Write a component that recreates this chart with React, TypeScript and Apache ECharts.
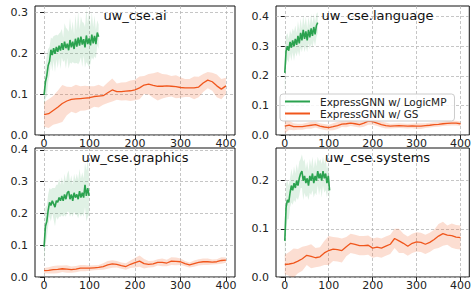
import React, { useEffect, useRef } from 'react';
import * as echarts from 'echarts';

const TITLES = ['uw_cse.ai', 'uw_cse.language', 'uw_cse.graphics', 'uw_cse.systems'];
const LEGEND_NAMES = ['ExpressGNN w/ LogicMP', 'ExpressGNN w/ GS'];
const X_TICKS = [0, 100, 200, 300, 400];
const Y_TICKS = [
  [0, 0.1, 0.2, 0.3],
  [0, 0.1, 0.2, 0.3, 0.4],
  [0, 0.1, 0.2, 0.3, 0.4],
  [0, 0.1, 0.2],
];
const Y_MAX = [0.315, 0.436, 0.406, 0.268];

// epochs between recorded points
const GREEN_EPOCH_STEP = 3;
const ORANGE_EPOCH_STEP = 10;

// ---- ExpressGNN w/ LogicMP (mean, std) ----
const AI_LMP_MEAN = [0.098, 0.13, 0.145, 0.17, 0.18, 0.208, 0.195, 0.212, 0.198, 0.215, 0.203, 0.218, 0.206, 0.224, 0.208, 0.228, 0.212, 0.223, 0.207, 0.232, 0.214, 0.228, 0.21, 0.235, 0.216, 0.238, 0.218, 0.24, 0.221, 0.234, 0.214, 0.243, 0.222, 0.236, 0.219, 0.245, 0.224, 0.242, 0.222, 0.25, 0.24];
const AI_LMP_STD = [0.03, 0.04, 0.05, 0.04, 0.035, 0.03, 0.04, 0.03, 0.045, 0.03, 0.04, 0.03, 0.045, 0.035, 0.03, 0.045, 0.05, 0.035, 0.045, 0.055, 0.04, 0.05, 0.035, 0.06, 0.04, 0.065, 0.04, 0.05, 0.055, 0.04, 0.05, 0.065, 0.05, 0.07, 0.045, 0.055, 0.04, 0.05, 0.035, 0.03, 0.03];

const LANG_LMP_MEAN = [0.21, 0.285, 0.3, 0.285, 0.315, 0.295, 0.32, 0.3, 0.325, 0.305, 0.335, 0.31, 0.345, 0.32, 0.355, 0.325, 0.35, 0.32, 0.355, 0.33, 0.36, 0.335, 0.365, 0.34, 0.37, 0.38];
const LANG_LMP_STD = [0.07, 0.05, 0.045, 0.04, 0.04, 0.045, 0.04, 0.05, 0.045, 0.04, 0.05, 0.045, 0.05, 0.04, 0.05, 0.045, 0.05, 0.04, 0.045, 0.04, 0.05, 0.04, 0.045, 0.04, 0.04, 0.035];

const GRAPH_LMP_MEAN = [0.095, 0.16, 0.175, 0.21, 0.235, 0.225, 0.24, 0.23, 0.22, 0.24, 0.235, 0.25, 0.24, 0.255, 0.24, 0.26, 0.245, 0.265, 0.27, 0.245, 0.26, 0.24, 0.265, 0.25, 0.26, 0.245, 0.27, 0.25, 0.265, 0.25, 0.29, 0.255, 0.28, 0.255];
const GRAPH_LMP_STD = [0.05, 0.06, 0.05, 0.05, 0.045, 0.05, 0.04, 0.05, 0.06, 0.05, 0.055, 0.06, 0.05, 0.06, 0.05, 0.065, 0.055, 0.06, 0.065, 0.055, 0.06, 0.05, 0.06, 0.055, 0.065, 0.06, 0.07, 0.06, 0.065, 0.06, 0.07, 0.08, 0.09, 0.06];

const SYS_LMP_MEAN = [0.075, 0.145, 0.16, 0.155, 0.175, 0.19, 0.18, 0.195, 0.185, 0.2, 0.19, 0.205, 0.215, 0.22, 0.2, 0.21, 0.195, 0.205, 0.19, 0.21, 0.2, 0.215, 0.195, 0.21, 0.2, 0.22, 0.205, 0.215, 0.2, 0.22, 0.205, 0.215, 0.195, 0.21, 0.18];
const SYS_LMP_STD = [0.04, 0.05, 0.04, 0.035, 0.03, 0.035, 0.03, 0.035, 0.03, 0.035, 0.03, 0.035, 0.03, 0.035, 0.04, 0.035, 0.03, 0.035, 0.03, 0.035, 0.03, 0.035, 0.03, 0.035, 0.03, 0.03, 0.035, 0.03, 0.035, 0.03, 0.03, 0.035, 0.03, 0.025, 0.025];

// ---- ExpressGNN w/ GS (mean, std) ----
const AI_GS_MEAN = [0.05, 0.052, 0.06, 0.068, 0.077, 0.083, 0.087, 0.088, 0.089, 0.09, 0.091, 0.094, 0.095, 0.096, 0.103, 0.11, 0.106, 0.106, 0.107, 0.108, 0.11, 0.115, 0.122, 0.124, 0.121, 0.119, 0.119, 0.12, 0.119, 0.118, 0.116, 0.115, 0.115, 0.115, 0.117, 0.127, 0.134, 0.13, 0.12, 0.112, 0.12];
const AI_GS_STD = [0.03, 0.035, 0.035, 0.04, 0.045, 0.035, 0.03, 0.035, 0.03, 0.03, 0.028, 0.025, 0.028, 0.022, 0.025, 0.028, 0.02, 0.022, 0.022, 0.025, 0.025, 0.028, 0.022, 0.025, 0.03, 0.035, 0.03, 0.028, 0.025, 0.028, 0.025, 0.022, 0.022, 0.028, 0.025, 0.022, 0.02, 0.022, 0.028, 0.025, 0.02];

const LANG_GS_MEAN = [0.03, 0.033, 0.028, 0.028, 0.028, 0.031, 0.033, 0.035, 0.03, 0.027, 0.025, 0.028, 0.032, 0.037, 0.038, 0.04, 0.038, 0.035, 0.04, 0.047, 0.045, 0.04, 0.035, 0.032, 0.03, 0.031, 0.032, 0.031, 0.03, 0.031, 0.03, 0.03, 0.032, 0.033, 0.035, 0.036, 0.038, 0.039, 0.04, 0.04, 0.038];
const LANG_GS_STD = [0.025, 0.015, 0.012, 0.01, 0.01, 0.01, 0.012, 0.01, 0.01, 0.01, 0.01, 0.012, 0.012, 0.01, 0.012, 0.01, 0.01, 0.01, 0.012, 0.012, 0.01, 0.01, 0.01, 0.01, 0.008, 0.008, 0.008, 0.008, 0.008, 0.008, 0.01, 0.01, 0.008, 0.008, 0.008, 0.008, 0.008, 0.008, 0.008, 0.008, 0.008];

const GRAPH_GS_MEAN = [0.02, 0.021, 0.023, 0.024, 0.026, 0.025, 0.023, 0.025, 0.028, 0.028, 0.028, 0.029, 0.03, 0.033, 0.038, 0.041, 0.04, 0.036, 0.033, 0.04, 0.045, 0.05, 0.042, 0.04, 0.041, 0.046, 0.046, 0.044, 0.05, 0.049, 0.048, 0.042, 0.038, 0.042, 0.046, 0.048, 0.048, 0.047, 0.048, 0.052, 0.053];
const GRAPH_GS_STD = [0.008, 0.01, 0.012, 0.012, 0.01, 0.012, 0.01, 0.01, 0.01, 0.01, 0.008, 0.008, 0.008, 0.01, 0.012, 0.012, 0.01, 0.01, 0.01, 0.012, 0.015, 0.018, 0.015, 0.01, 0.01, 0.01, 0.012, 0.01, 0.012, 0.012, 0.01, 0.008, 0.008, 0.01, 0.01, 0.01, 0.01, 0.008, 0.008, 0.01, 0.008];

const SYS_GS_MEAN = [0.026, 0.027, 0.029, 0.033, 0.038, 0.045, 0.043, 0.04, 0.042, 0.05, 0.055, 0.058, 0.057, 0.055, 0.063, 0.07, 0.068, 0.065, 0.065, 0.066, 0.06, 0.062, 0.06, 0.064, 0.068, 0.08, 0.075, 0.07, 0.064, 0.07, 0.073, 0.072, 0.068, 0.072, 0.078, 0.085, 0.09, 0.087, 0.086, 0.083, 0.082];
const SYS_GS_STD = [0.02, 0.025, 0.03, 0.025, 0.025, 0.02, 0.025, 0.02, 0.02, 0.025, 0.03, 0.025, 0.025, 0.025, 0.02, 0.02, 0.02, 0.02, 0.02, 0.02, 0.02, 0.02, 0.02, 0.02, 0.02, 0.02, 0.025, 0.02, 0.02, 0.02, 0.02, 0.02, 0.02, 0.02, 0.02, 0.025, 0.025, 0.02, 0.025, 0.025, 0.025];

const PANELS = [
  { lmp: [AI_LMP_MEAN, AI_LMP_STD], gs: [AI_GS_MEAN, AI_GS_STD] },
  { lmp: [LANG_LMP_MEAN, LANG_LMP_STD], gs: [LANG_GS_MEAN, LANG_GS_STD] },
  { lmp: [GRAPH_LMP_MEAN, GRAPH_LMP_STD], gs: [GRAPH_GS_MEAN, GRAPH_GS_STD] },
  { lmp: [SYS_LMP_MEAN, SYS_LMP_STD], gs: [SYS_GS_MEAN, SYS_GS_STD] },
];

const GREEN = '#2ba24f';
const GREEN_BAND = 'rgba(44,160,80,0.15)';
const ORANGE = '#f0561c';
const ORANGE_BAND = 'rgba(240,90,30,0.2)';
const FONT = 'DejaVu Sans';

const GRIDS = [
  { left: 35, top: 6, width: 200, height: 129 },
  { left: 276, top: 6, width: 203, height: 129 },
  { left: 35, top: 148, width: 200, height: 129 },
  { left: 276, top: 148, width: 203, height: 129 },
];

function buildSeries(gi: number, mean: number[], std: number[], step: number, name: string, color: string, band: string, lw: number) {
  const bandData = mean.map((m, i) => [i * step, m - std[i], m + std[i]]);
  const line = mean.map((m, i) => [i * step, m]);
  return [
    {
      type: 'custom', xAxisIndex: gi, yAxisIndex: gi, data: bandData, silent: true, z: 1, clip: true,
      encode: { x: 0, y: [1, 2] },
      renderItem: (params: any, api: any) => {
        if (params.dataIndex !== 0) return null;
        const upper = bandData.map((d) => api.coord([d[0], d[2]]));
        const lower = bandData.map((d) => api.coord([d[0], d[1]])).reverse();
        return { type: 'polygon', shape: { points: upper.concat(lower) }, style: { fill: band } };
      },
    },
    {
      type: 'line', name, xAxisIndex: gi, yAxisIndex: gi, data: line, color,
      symbol: 'none', lineStyle: { color, width: lw }, z: 3,
    },
  ];
}

export default function App() {
  const ref = useRef<HTMLDivElement>(null);
  useEffect(() => {
    if (!ref.current) return;
    const chart = echarts.init(ref.current, undefined, { renderer: 'svg' });
    const gridLine = { show: true, lineStyle: { color: '#b8b8b8', width: 0.8, type: [3, 2] } };
    const xAxes = GRIDS.map((_, gi) => ({
      type: 'value', gridIndex: gi, min: -20, max: 420,
      axisLine: { show: false },
      axisTick: { show: true, length: 4, lineStyle: { color: '#222', width: 1 }, customValues: X_TICKS },
      axisLabel: { customValues: X_TICKS, margin: 3, fontSize: 11, lineHeight: 11, color: '#222', fontFamily: FONT },
      splitLine: gridLine,
    }));
    const yAxes = GRIDS.map((_, gi) => ({
      type: 'value', gridIndex: gi, min: 0, max: Y_MAX[gi],
      axisLine: { show: false },
      axisTick: { show: true, length: 4, lineStyle: { color: '#222', width: 1 }, customValues: Y_TICKS[gi] },
      axisLabel: {
        customValues: Y_TICKS[gi], margin: 7, fontSize: 11, color: '#222', fontFamily: FONT,
        formatter: (v: number) => v.toFixed(1),
      },
      splitLine: gridLine,
    }));
    const series: any[] = [];
    PANELS.forEach((p, gi) => {
      series.push(...buildSeries(gi, p.lmp[0], p.lmp[1], GREEN_EPOCH_STEP, LEGEND_NAMES[0], GREEN, GREEN_BAND, 1.6));
      series.push(...buildSeries(gi, p.gs[0], p.gs[1], ORANGE_EPOCH_STEP, LEGEND_NAMES[1], ORANGE, ORANGE_BAND, 1.3));
    });
    chart.setOption({
      animation: false,
      backgroundColor: '#ffffff',
      grid: GRIDS.map((g) => ({ ...g, show: true, borderColor: '#111', borderWidth: 1, backgroundColor: 'transparent' })),
      xAxis: xAxes,
      yAxis: yAxes,
      title: TITLES.map((t, gi) => ({
        text: t,
        left: GRIDS[gi].left + GRIDS[gi].width / 2,
        top: GRIDS[gi].top + 3,
        textAlign: 'center',
        padding: 0,
        textStyle: { fontSize: 13, lineHeight: 13, fontWeight: 'normal', color: '#111', fontFamily: FONT },
      })),
      legend: {
        data: LEGEND_NAMES,
        orient: 'vertical',
        left: 280,
        top: 94,
        padding: [2, 8, 2, 5],
        itemGap: 1,
        itemWidth: 25,
        itemHeight: 2,
        icon: 'rect',
        backgroundColor: 'rgba(255,255,255,0.85)',
        borderColor: '#cccccc',
        borderWidth: 1,
        borderRadius: 3,
        textStyle: { fontSize: 10.5, lineHeight: 10, color: '#222', fontFamily: FONT, padding: [0, 0, 0, 5] },
      },
      series,
    });
    return () => chart.dispose();
  }, []);
  return <div ref={ref} style={{ position: 'fixed', left: 0, top: 0, width: 474, height: 291 }} />;
}
